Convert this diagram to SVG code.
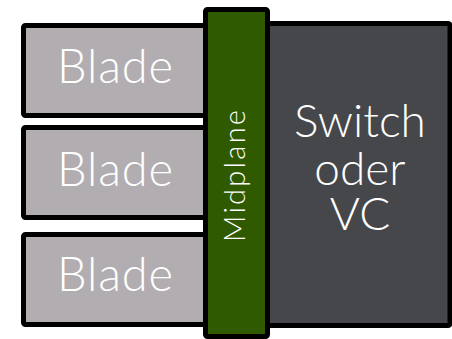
<svg xmlns="http://www.w3.org/2000/svg" width="452" height="339" viewBox="0 0 452 339">
<style>
.box{stroke:#000;stroke-width:5;stroke-linejoin:round}
.blade{fill:#b1adb0}
.t{font-family:Lato,"Open Sans","Liberation Sans",sans-serif;font-weight:300;fill:#fff;text-anchor:middle}
.bt{font-size:47px}
.st{font-size:46px}
</style>
<rect width="452" height="339" fill="#fff"/>
<g id="blade1"><rect class="box blade" x="23.5" y="25.5" width="195" height="90" rx="2"/><text class="t bt" x="115" y="83" textLength="116">Blade</text></g>
<g id="blade2"><rect class="box blade" x="23.5" y="127.5" width="195" height="90" rx="2"/><text class="t bt" x="115" y="186" textLength="116">Blade</text></g>
<g id="blade3"><rect class="box blade" x="23.5" y="234.5" width="195" height="90" rx="2"/><text class="t bt" x="115" y="291" textLength="116">Blade</text></g>
<g id="switch"><rect class="box" fill="#46474b" x="255" y="23.5" width="195" height="302" rx="2"/>
<text class="t st" x="360" y="137">Switch</text>
<text class="t st" x="360" y="185">oder</text>
<text class="t st" x="360" y="230">VC</text></g>
<g id="midplane"><rect class="box" fill="#2f5a00" x="205.5" y="9.5" width="62" height="327" rx="2"/><text class="t" font-size="29" textLength="132" transform="translate(245,176) rotate(-90)">Midplane</text></g>
<g id="connectors"></g>
</svg>
